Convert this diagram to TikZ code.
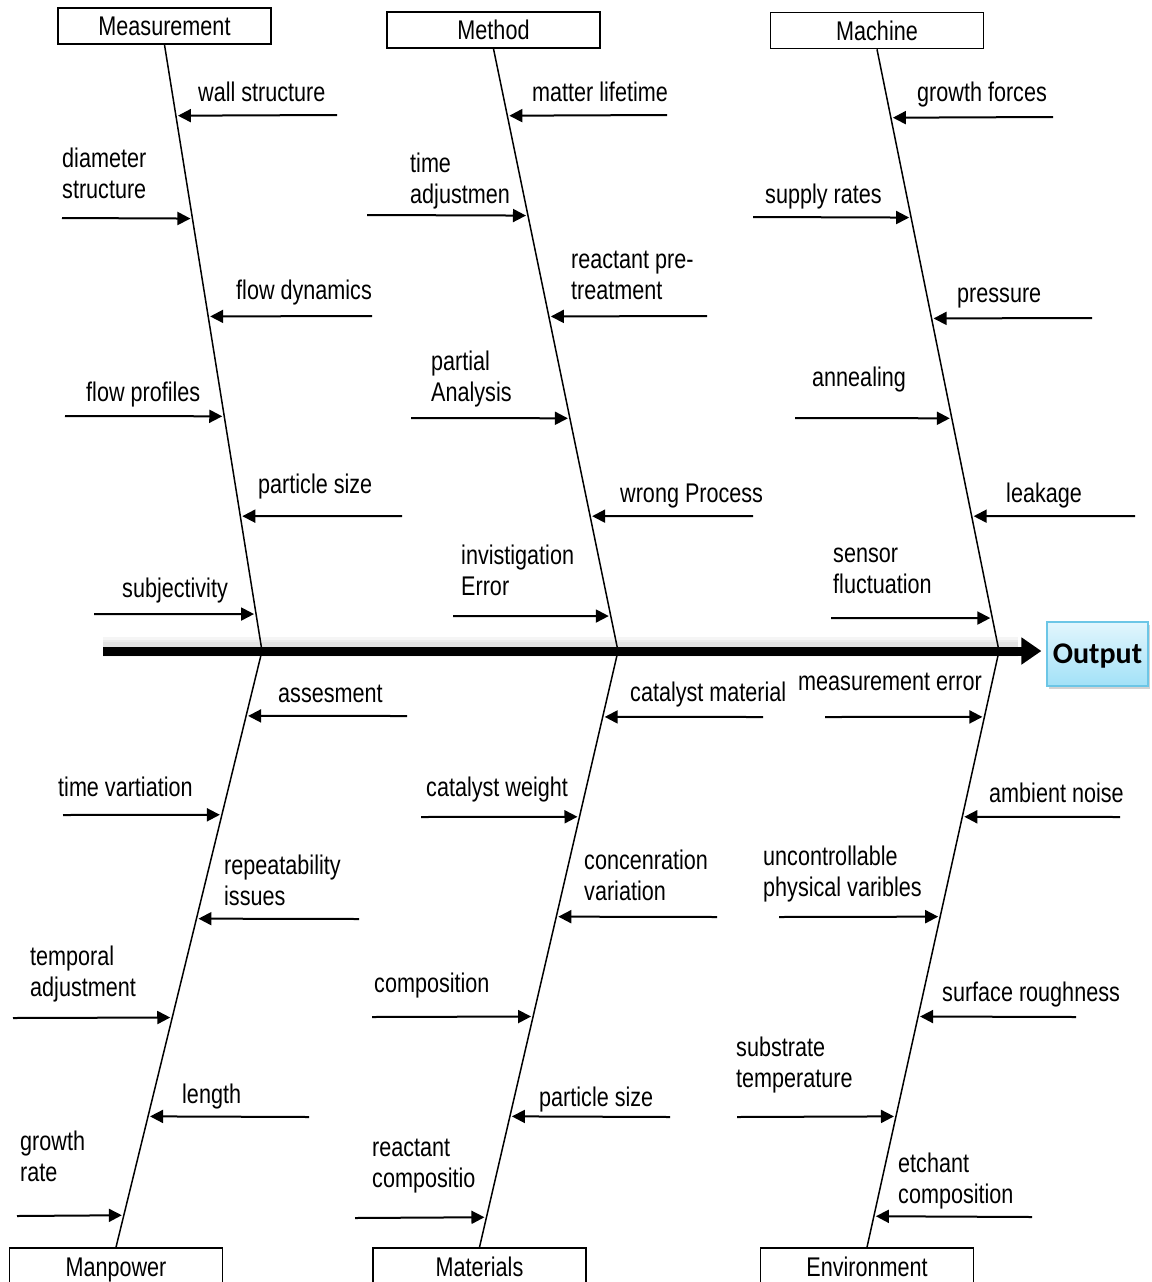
\documentclass[tikz,border=0pt]{standalone}
\usepackage{fontspec}
\setmainfont{Liberation Sans}[FakeStretch=0.80]
\newfontfamily\outfont{Carlito}
\usetikzlibrary{arrows.meta,calc,shadows}

\definecolor{outtop}{HTML}{E2F6FD}
\definecolor{outbot}{HTML}{A2E1F7}
\definecolor{outline}{HTML}{6CC6E6}

% two stacked lines whose baseline is that of the first line
\newcommand\twolines[2]{\vtop{\hbox{#1}\hbox{#2}}}

\begin{document}
\begin{tikzpicture}[x=1pt,y=-1pt,
  lbl/.style={anchor=base west,inner sep=0pt,font=\fontsize{27}{31}\selectfont},
  catbox/.style={draw,line width=1.6pt,fill=white,minimum width=213pt,
    minimum height=36pt,inner sep=0pt,text height=19.5pt,text depth=0pt,
    font=\fontsize{27}{31}\selectfont},
  bone/.style={line width=1.5pt},
  rib/.style={line width=2pt,-{Triangle[length=13pt,width=13pt]},shorten >=2pt},
]
\useasboundingbox (0,0) rectangle (1151,1282);

% category boxes
\node[catbox] (mMeas) at (164.5,26) {Measurement};
\node[catbox] (mMeth) at (493.5,30) {Method};
\node[catbox] (mMach) at (877,30.5) {Machine};
\node[catbox,minimum height=38pt] (mMan) at (116,1267) {Manpower};
\node[catbox,minimum height=38pt] (mMat) at (479.5,1267) {Materials};
\node[catbox,minimum height=38pt] (mEnv) at (867,1267) {Environment};

% effect box
\node[draw=outline,line width=1.2pt,top color=outtop,bottom color=outbot,
  minimum width=101pt,minimum height=64pt,inner sep=0pt,text depth=0pt,
  drop shadow={shadow xshift=2pt,shadow yshift=-3pt,opacity=.35},
  font=\outfont\bfseries\fontsize{30}{34}\selectfont] (out) at (1097.5,654) {Output};

% joints on the spine
\coordinate (j1) at (262,651);
\coordinate (j2) at (618,651);
\coordinate (j3) at (999,651);
\coordinate (sp0) at (103,651);

% bones
\draw[bone] (mMeas.south) -- (j1);
\draw[bone] (mMeth.south) -- (j2);
\draw[bone] (mMach.south) -- (j3);
\draw[bone] (j1) -- (mMan.north);
\draw[bone] (j2) -- (mMat.north);
\draw[bone] (j3) -- (mEnv.north);

% spine with a soft haze
\foreach \w in {20,14,10}
  \draw[line width=\w pt,black,opacity=.04] (sp0) ++(0,-4) -- ++(915,0);
\draw[line width=9pt,-{Triangle[length=20pt,width=26pt]},shorten >=5pt]
  (sp0) -- (sp0 -| out.west);

% causes: Measurement
\foreach \n/\yy/\xs in {a/115/337,b/218/62,c/316/372,d/416/65,e/516/402,f/614/94}{
  \coordinate (Me\n0) at (\xs,\yy);
  \coordinate (Me\n1) at ($(mMeas.south)!{(\yy-44)/607}!(j1)$);
  \draw[rib] (Me\n0) -- (Me\n1);
}
% causes: Method
\foreach \n/\yy/\xs in {a/115/667,b/215/367,c/316/707,d/418/411,e/516/753,f/616/453}{
  \coordinate (Mt\n0) at (\xs,\yy);
  \coordinate (Mt\n1) at ($(mMeth.south)!{(\yy-48)/603}!(j2)$);
  \draw[rib] (Mt\n0) -- (Mt\n1);
}
% causes: Machine
\foreach \n/\yy/\xs in {a/117/1053,b/217/753,c/318/1092,d/418/795,e/516/1135,f/618/831}{
  \coordinate (Mc\n0) at (\xs,\yy);
  \coordinate (Mc\n1) at ($(mMach.south)!{(\yy-48.5)/602.5}!(j3)$);
  \draw[rib] (Mc\n0) -- (Mc\n1);
}
% causes: Manpower
\foreach \n/\yy/\xs in {a/716/407,b/815/63,c/919/359,d/1018/13,e/1117/309,f/1216/17}{
  \coordinate (Mp\n0) at (\xs,\yy);
  \coordinate (Mp\n1) at ($(j1)!{(\yy-651)/597}!(mMan.north)$);
  \draw[rib] (Mp\n0) -- (Mp\n1);
}
% causes: Materials
\foreach \n/\yy/\xs in {a/717/763,b/817/421,c/917/717,d/1017/372,e/1117/670,f/1218/355}{
  \coordinate (Ma\n0) at (\xs,\yy);
  \coordinate (Ma\n1) at ($(j2)!{(\yy-651)/597}!(mMat.north)$);
  \draw[rib] (Ma\n0) -- (Ma\n1);
}
% causes: Environment
\foreach \n/\yy/\xs in {a/717/825,b/817/1120,c/917/779,d/1017/1076,e/1117/737,f/1217/1032}{
  \coordinate (En\n0) at (\xs,\yy);
  \coordinate (En\n1) at ($(j3)!{(\yy-651)/597}!(mEnv.north)$);
  \draw[rib] (En\n0) -- (En\n1);
}

% labels: Measurement
\node[lbl] (tMea) at (198,101) {wall structure};
\node[lbl] (tMeb) at (62,167) {\twolines{diameter}{structure}};
\node[lbl] (tMec) at (236,299) {flow dynamics};
\node[lbl] (tMed) at (86,401) {flow profiles};
\node[lbl] (tMee) at (258,493) {particle size};
\node[lbl] (tMef) at (122,597) {subjectivity};
% labels: Method
\node[lbl] (tMta) at (532,101) {matter lifetime};
\node[lbl] (tMtb) at (410,172) {\twolines{time}{adjustmen}};
\node[lbl] (tMtc) at (571,268) {\twolines{reactant pre-}{treatment}};
\node[lbl] (tMtd) at (431,370) {\twolines{partial}{Analysis}};
\node[lbl] (tMte) at (620,502) {wrong Process};
\node[lbl] (tMtf) at (461,564) {\twolines{invistigation}{Error}};
% labels: Machine
\node[lbl] (tMca) at (917,101) {growth forces};
\node[lbl] (tMcb) at (765,203) {supply rates};
\node[lbl] (tMcc) at (957,302) {pressure};
\node[lbl] (tMcd) at (812,386) {annealing};
\node[lbl] (tMce) at (1006,502) {leakage};
\node[lbl] (tMcf) at (833,562) {\twolines{sensor}{fluctuation}};
% labels: Manpower
\node[lbl] (tMpa) at (278,702) {assesment};
\node[lbl] (tMpb) at (58,796) {time vartiation};
\node[lbl] (tMpc) at (224,874) {\twolines{repeatability}{issues}};
\node[lbl] (tMpd) at (30,965) {\twolines{temporal}{adjustment}};
\node[lbl] (tMpe) at (182,1103) {length};
\node[lbl] (tMpf) at (20,1150) {\twolines{growth}{rate}};
% labels: Materials
\node[lbl] (tMaa) at (630,701) {catalyst material};
\node[lbl] (tMab) at (426,796) {catalyst weight};
\node[lbl] (tMac) at (584,869) {\twolines{concenration}{variation}};
\node[lbl] (tMad) at (374,992) {composition};
\node[lbl] (tMae) at (539,1106) {particle size};
\node[lbl] (tMaf) at (372,1156) {\twolines{reactant}{compositio}};
% labels: Environment
\node[lbl] (tEna) at (798,690) {measurement error};
\node[lbl] (tEnb) at (989,802) {ambient noise};
\node[lbl] (tEnc) at (763,865) {\twolines{uncontrollable}{physical varibles}};
\node[lbl] (tEnd) at (942,1001) {surface roughness};
\node[lbl] (tEne) at (736,1056) {\twolines{substrate}{temperature}};
\node[lbl] (tEnf) at (898,1172) {\twolines{etchant}{composition}};
\end{tikzpicture}
\end{document}
